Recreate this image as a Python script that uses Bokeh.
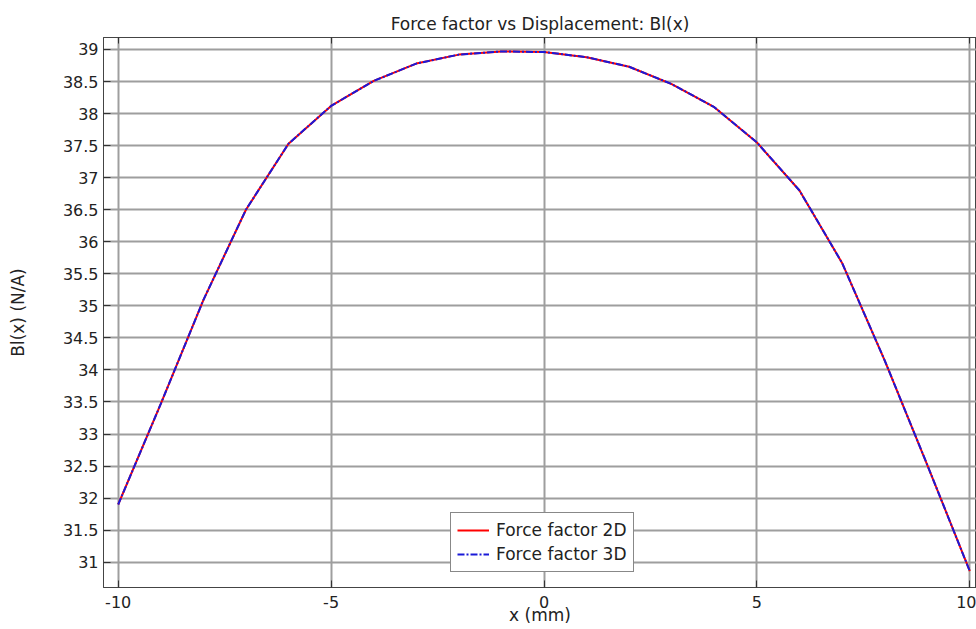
from bokeh.plotting import figure
from bokeh.models import FixedTicker, LinearAxis, Range1d, Legend, LegendItem
from bokeh.embed import file_html
from bokeh.resources import INLINE

# ---- data ----
x_mm = [-10, -9, -8, -7, -6, -5, -4, -3, -2, -1, 0, 1, 2, 3, 4, 5, 6, 7, 8, 9, 10]
bl_2d = [31.90, 33.47, 35.09, 36.50, 37.53, 38.12, 38.51, 38.78, 38.92, 38.97, 38.96,
         38.88, 38.73, 38.46, 38.10, 37.55, 36.80, 35.67, 34.15, 32.52, 30.86]
bl_3d = [31.90, 33.47, 35.09, 36.50, 37.53, 38.12, 38.51, 38.78, 38.92, 38.97, 38.96,
         38.88, 38.73, 38.46, 38.10, 37.55, 36.80, 35.67, 34.15, 32.52, 30.86]

x_ticks = [-10, -5, 0, 5, 10]
x_tick_labels = ["-10", "-5", "0", "5", "10"]
y_ticks = [31, 31.5, 32, 32.5, 33, 33.5, 34, 34.5, 35, 35.5, 36, 36.5, 37, 37.5, 38, 38.5, 39]
y_tick_labels = ["31", "31.5", "32", "32.5", "33", "33.5", "34", "34.5", "35", "35.5",
                 "36", "36.5", "37", "37.5", "38", "38.5", "39"]

FONT = "DejaVu Sans"
TXT = "#222222"

p = figure(width=976, height=629, output_backend="svg", toolbar_location=None,
           x_range=Range1d(-10.345, 10.157), y_range=Range1d(30.605, 39.187),
           min_border_left=103, min_border_right=0, min_border_top=37, min_border_bottom=42,
           title="Force factor vs Displacement: Bl(x)")

p.title.align = "center"
p.title.text_font = FONT
p.title.text_font_size = "17px"
p.title.text_font_style = "normal"
p.title.text_color = TXT
p.title.standoff = 7

p.outline_line_color = "#444444"
p.outline_line_width = 1

p.xaxis.ticker = FixedTicker(ticks=x_ticks)
p.yaxis.ticker = FixedTicker(ticks=y_ticks)
p.xaxis.major_label_overrides = dict(zip(x_ticks, x_tick_labels))
p.yaxis.major_label_overrides = dict(zip(y_ticks, y_tick_labels))

for ax in (p.xaxis[0], p.yaxis[0]):
    ax.major_tick_in = 7
    ax.major_tick_out = 0
    ax.minor_tick_line_color = None
    ax.axis_line_color = "#444444"
    ax.major_tick_line_color = "#333333"
    ax.major_label_text_font = FONT
    ax.major_label_text_font_size = "16px"
    ax.major_label_text_color = TXT
    ax.axis_label_text_font = FONT
    ax.axis_label_text_font_size = "17px"
    ax.axis_label_text_font_style = "normal"
    ax.axis_label_text_color = TXT

p.xaxis.axis_label = "x (mm)"
p.yaxis.axis_label = "Bl(x) (N/A)"
p.xaxis.major_label_standoff = 8
p.xaxis.axis_label_standoff = -6
p.yaxis.major_label_standoff = 5
p.yaxis.axis_label_standoff = 32

# top axis with inward ticks, no labels
top = LinearAxis(ticker=FixedTicker(ticks=x_ticks),
                 major_label_overrides={t: "" for t in x_ticks},
                 major_tick_in=6, major_tick_out=0, minor_tick_line_color=None,
                 axis_line_color="#444444", major_tick_line_color="#333333",
                 major_label_text_font_size="1px", major_label_standoff=0)
p.add_layout(top, "above")

p.xgrid.ticker = FixedTicker(ticks=x_ticks)
p.ygrid.ticker = FixedTicker(ticks=y_ticks)
for g in (p.xgrid[0], p.ygrid[0]):
    g.grid_line_color = "#9e9e9e"
    g.grid_line_width = 2
    g.grid_line_alpha = 1.0

r2d = p.line(x_mm, bl_2d, line_color="#ff0000", line_width=2)
r3d = p.line(x_mm, bl_3d, line_color="#1a1ad8", line_width=2, line_dash="7 2 2 2")

legend = Legend(items=[LegendItem(label="Force factor 2D", renderers=[r2d]),
                       LegendItem(label="Force factor 3D", renderers=[r3d])],
                location=(347, 15), margin=0, padding=6, spacing=2,
                label_height=22, glyph_width=32, glyph_height=22, label_standoff=7,
                label_text_font=FONT, label_text_font_size="17px", label_text_color=TXT,
                border_line_color="#111111", border_line_width=1,
                background_fill_color="white", background_fill_alpha=1.0)
p.add_layout(legend, "center")

open("out.html", "w").write(file_html(p, INLINE))
